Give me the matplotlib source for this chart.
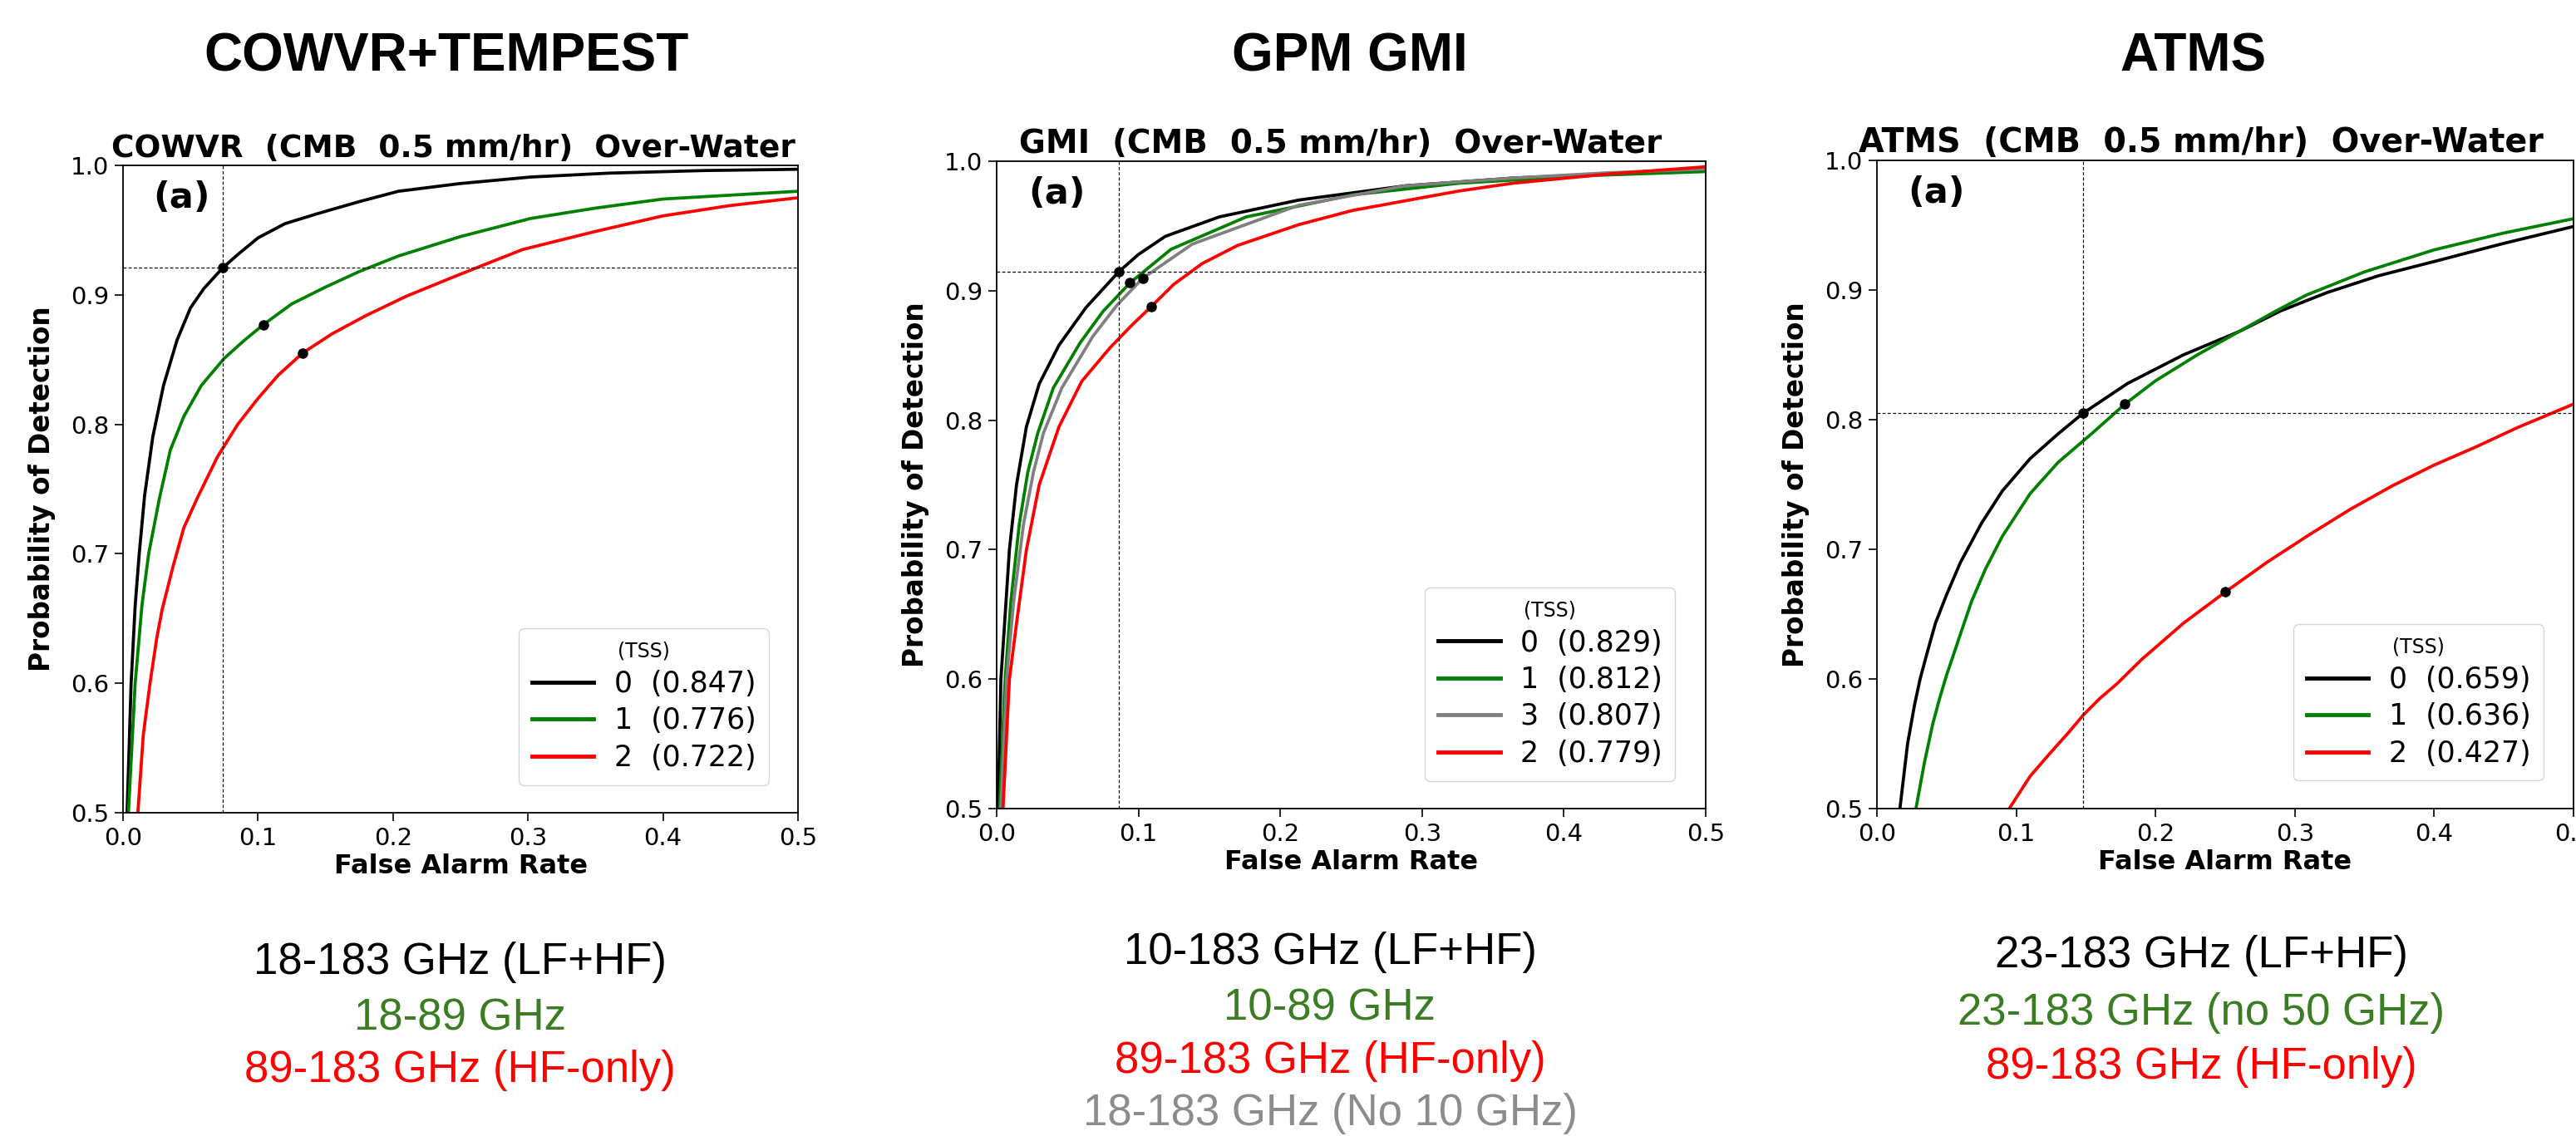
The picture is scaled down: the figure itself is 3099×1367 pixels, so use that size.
import matplotlib
matplotlib.use("Agg")
import matplotlib.pyplot as plt

# ---------------- data ----------------
# Panel 1: COWVR
cow_far_0 = [0.003, 0.006, 0.009, 0.012, 0.016, 0.022, 0.030, 0.040, 0.050, 0.060, 0.074, 0.086, 0.10, 0.12, 0.145, 0.175, 0.204, 0.25, 0.302, 0.36, 0.43, 0.50]
cow_pod_0 = [0.50, 0.60, 0.66, 0.70, 0.745, 0.79, 0.83, 0.865, 0.89, 0.905, 0.921, 0.932, 0.944, 0.955, 0.963, 0.972, 0.980, 0.986, 0.991, 0.994, 0.996, 0.997]
cow_far_1 = [0.004, 0.009, 0.014, 0.019, 0.027, 0.035, 0.045, 0.058, 0.075, 0.090, 0.104, 0.125, 0.15, 0.175, 0.204, 0.25, 0.302, 0.35, 0.40, 0.45, 0.50]
cow_pod_1 = [0.50, 0.60, 0.66, 0.70, 0.743, 0.78, 0.806, 0.83, 0.851, 0.865, 0.877, 0.893, 0.906, 0.918, 0.930, 0.945, 0.959, 0.967, 0.974, 0.977, 0.980]
cow_far_2 = [0.011, 0.015, 0.020, 0.025, 0.029, 0.037, 0.045, 0.055, 0.070, 0.085, 0.10, 0.115, 0.133, 0.155, 0.18, 0.21, 0.25, 0.296, 0.35, 0.40, 0.45, 0.50]
cow_pod_2 = [0.50, 0.56, 0.60, 0.635, 0.657, 0.69, 0.72, 0.743, 0.775, 0.80, 0.82, 0.838, 0.855, 0.870, 0.884, 0.899, 0.916, 0.935, 0.949, 0.961, 0.969, 0.975]
cow_pts_far = [0.074, 0.104, 0.133]
cow_pts_pod = [0.921, 0.877, 0.855]
cow_ref = (0.074, 0.921)
cow_tss = ["0.847", "0.776", "0.722"]

# Panel 2: GPM GMI
gmi_far_0 = [0.001, 0.003, 0.0056, 0.009, 0.014, 0.021, 0.030, 0.044, 0.063, 0.086, 0.10, 0.119, 0.157, 0.213, 0.288, 0.364, 0.43, 0.50]
gmi_pod_0 = [0.50, 0.60, 0.643, 0.70, 0.75, 0.795, 0.828, 0.858, 0.887, 0.9145, 0.928, 0.942, 0.957, 0.970, 0.981, 0.987, 0.990, 0.993]
gmi_far_1 = [0.002, 0.006, 0.010, 0.016, 0.022, 0.029, 0.040, 0.059, 0.075, 0.094, 0.123, 0.176, 0.251, 0.326, 0.42, 0.50]
gmi_pod_1 = [0.50, 0.60, 0.66, 0.72, 0.76, 0.79, 0.825, 0.86, 0.884, 0.906, 0.932, 0.957, 0.974, 0.983, 0.989, 0.992]
gmi_far_3 = [0.003, 0.007, 0.012, 0.019, 0.026, 0.033, 0.046, 0.068, 0.085, 0.103, 0.138, 0.213, 0.288, 0.364, 0.43, 0.50]
gmi_pod_3 = [0.50, 0.60, 0.66, 0.72, 0.76, 0.79, 0.825, 0.865, 0.889, 0.9096, 0.936, 0.966, 0.981, 0.987, 0.991, 0.994]
gmi_far_2 = [0.0045, 0.009, 0.014, 0.021, 0.030, 0.044, 0.060, 0.080, 0.095, 0.109, 0.125, 0.145, 0.17, 0.213, 0.251, 0.326, 0.364, 0.43, 0.50]
gmi_pod_2 = [0.50, 0.60, 0.643, 0.70, 0.75, 0.795, 0.83, 0.856, 0.873, 0.8877, 0.905, 0.921, 0.935, 0.951, 0.962, 0.977, 0.983, 0.990, 0.9957]
gmi_pts_far = [0.086, 0.094, 0.103, 0.109]
gmi_pts_pod = [0.9145, 0.906, 0.9096, 0.8877]
gmi_ref = (0.086, 0.9145)
gmi_tss = ["0.829", "0.812", "0.807", "0.779"]

# Panel 3: ATMS
atms_far_0 = [0.0165, 0.022, 0.027, 0.031, 0.036, 0.042, 0.050, 0.060, 0.075, 0.09, 0.11, 0.13, 0.148, 0.18, 0.22, 0.26, 0.29, 0.323, 0.36, 0.40, 0.45, 0.50]
atms_pod_0 = [0.50, 0.55, 0.58, 0.60, 0.62, 0.643, 0.665, 0.69, 0.72, 0.745, 0.77, 0.789, 0.805, 0.828, 0.85, 0.868, 0.884, 0.898, 0.911, 0.922, 0.936, 0.949]
atms_far_1 = [0.028, 0.034, 0.040, 0.045, 0.050, 0.056, 0.061, 0.068, 0.078, 0.09, 0.11, 0.13, 0.155, 0.178, 0.20, 0.23, 0.26, 0.285, 0.308, 0.35, 0.40, 0.45, 0.50]
atms_pod_1 = [0.50, 0.535, 0.565, 0.585, 0.603, 0.622, 0.638, 0.66, 0.685, 0.71, 0.743, 0.767, 0.79, 0.812, 0.83, 0.85, 0.868, 0.883, 0.896, 0.914, 0.931, 0.944, 0.955]
atms_far_2 = [0.095, 0.11, 0.1245, 0.137, 0.148, 0.16, 0.172, 0.19, 0.22, 0.25, 0.28, 0.31, 0.34, 0.37, 0.40, 0.43, 0.46, 0.50]
atms_pod_2 = [0.50, 0.525, 0.543, 0.558, 0.572, 0.585, 0.596, 0.615, 0.643, 0.667, 0.69, 0.711, 0.731, 0.749, 0.765, 0.779, 0.794, 0.812]
atms_pts_far = [0.148, 0.178, 0.25]
atms_pts_pod = [0.805, 0.812, 0.667]
atms_ref = (0.148, 0.805)
atms_tss = ["0.659", "0.636", "0.427"]

big_titles = ["COWVR+TEMPEST", "GPM GMI", "ATMS"]
panel_titles = ["COWVR  (CMB  0.5 mm/hr)  Over-Water",
                "GMI  (CMB  0.5 mm/hr)  Over-Water",
                "ATMS  (CMB  0.5 mm/hr)  Over-Water"]
desc_lines = [
    [("18-183 GHz (LF+HF)", "black"), ("18-89 GHz", "#3b7d23"), ("89-183 GHz (HF-only)", "#ff0000")],
    [("10-183 GHz (LF+HF)", "black"), ("10-89 GHz", "#3b7d23"), ("89-183 GHz (HF-only)", "#ff0000"),
     ("18-183 GHz (No 10 GHz)", "#8c8c8c")],
    [("23-183 GHz (LF+HF)", "black"), ("23-183 GHz (no 50 GHz)", "#3b7d23"), ("89-183 GHz (HF-only)", "#ff0000")],
]
xticks = [0.0, 0.1, 0.2, 0.3, 0.4, 0.5]
yticks = [0.5, 0.6, 0.7, 0.8, 0.9, 1.0]

# ---------------- figure ----------------
W, H = 3099, 1367
fig = plt.figure(figsize=(W / 100, H / 100), dpi=100)

def px_axes(l, r, t, b):
    return fig.add_axes([l / W, 1 - b / H, (r - l) / W, (b - t) / H])

axes_px = [(148, 960, 199, 978), (1199, 2052, 194, 973), (2258, 3096, 193, 973)]
title_sizes = [27, 28, 28.5]
title_x = [0.49, 0.485, 0.465]

panels = [
    dict(curves=[(cow_far_0, cow_pod_0, "black", "0"), (cow_far_1, cow_pod_1, "green", "1"),
                 (cow_far_2, cow_pod_2, "red", "2")],
         tss=cow_tss, pts=(cow_pts_far, cow_pts_pod), ref=cow_ref),
    dict(curves=[(gmi_far_0, gmi_pod_0, "black", "0"), (gmi_far_1, gmi_pod_1, "green", "1"),
                 (gmi_far_3, gmi_pod_3, "gray", "3"), (gmi_far_2, gmi_pod_2, "red", "2")],
         tss=gmi_tss, pts=(gmi_pts_far, gmi_pts_pod), ref=gmi_ref),
    dict(curves=[(atms_far_0, atms_pod_0, "black", "0"), (atms_far_1, atms_pod_1, "green", "1"),
                 (atms_far_2, atms_pod_2, "red", "2")],
         tss=atms_tss, pts=(atms_pts_far, atms_pts_pod), ref=atms_ref),
]

for i, (p, apx) in enumerate(zip(panels, axes_px)):
    ax = px_axes(*apx)
    for (far, pod, col, lab), t in zip(p["curves"], p["tss"]):
        ax.plot(far, pod, color=col, lw=2.7, label=f"{lab}  ({t})")
    ax.axvline(p["ref"][0], color="black", lw=0.9, ls=(0, (3, 2)))
    ax.axhline(p["ref"][1], color="black", lw=0.9, ls=(0, (3, 2)))
    ax.plot(p["pts"][0], p["pts"][1], "o", color="black", ms=8, zorder=5)
    ax.set_xlim(0, 0.5)
    ax.set_ylim(0.5, 1.0)
    ax.set_xticks(xticks)
    ax.set_yticks(yticks)
    ax.tick_params(labelsize=21, length=7, width=1.2, pad=5)
    for s in ax.spines.values():
        s.set_linewidth(1.3)
    ax.set_xlabel("False Alarm Rate", fontsize=23, fontweight="bold", labelpad=3)
    ax.set_ylabel("Probability of Detection", fontsize=23.5, fontweight="bold", labelpad=13)
    ax.set_title(panel_titles[i], fontsize=title_sizes[i], fontweight="bold", pad=7,
                 x=title_x[i])
    ax.text(0.045, 0.95, "(a)", transform=ax.transAxes, fontsize=31, fontweight="bold",
            ha="left", va="center")
    leg = ax.legend(loc="lower right", bbox_to_anchor=(0.957, 0.043), borderaxespad=0,
                    fontsize=25, title="(TSS)", title_fontsize=17, handlelength=2.15,
                    borderpad=0.45, labelspacing=0.3, handletextpad=0.7)
    for h in leg.get_lines():
        h.set_linewidth(3.5)

# big titles
big_x = [537, 1624, 2638]
for bx, bt in zip(big_x, big_titles):
    fig.text(bx / W, 1 - 69 / H, bt, fontsize=46, fontweight="bold", family="Liberation Sans",
             ha="center", va="center")

# description lines
desc_x = [553, 1600, 2648]
desc_y = [[1158, 1225, 1288], [1146, 1213, 1277, 1340], [1150, 1219, 1284]]
for dx, dys, lines in zip(desc_x, desc_y, desc_lines):
    for dy, (txt, col) in zip(dys, lines):
        fig.text(dx / W, 1 - dy / H, txt, fontsize=38, family="Liberation Sans",
                 color=col, ha="center", va="center")

fig.savefig("out.png", dpi=100)
